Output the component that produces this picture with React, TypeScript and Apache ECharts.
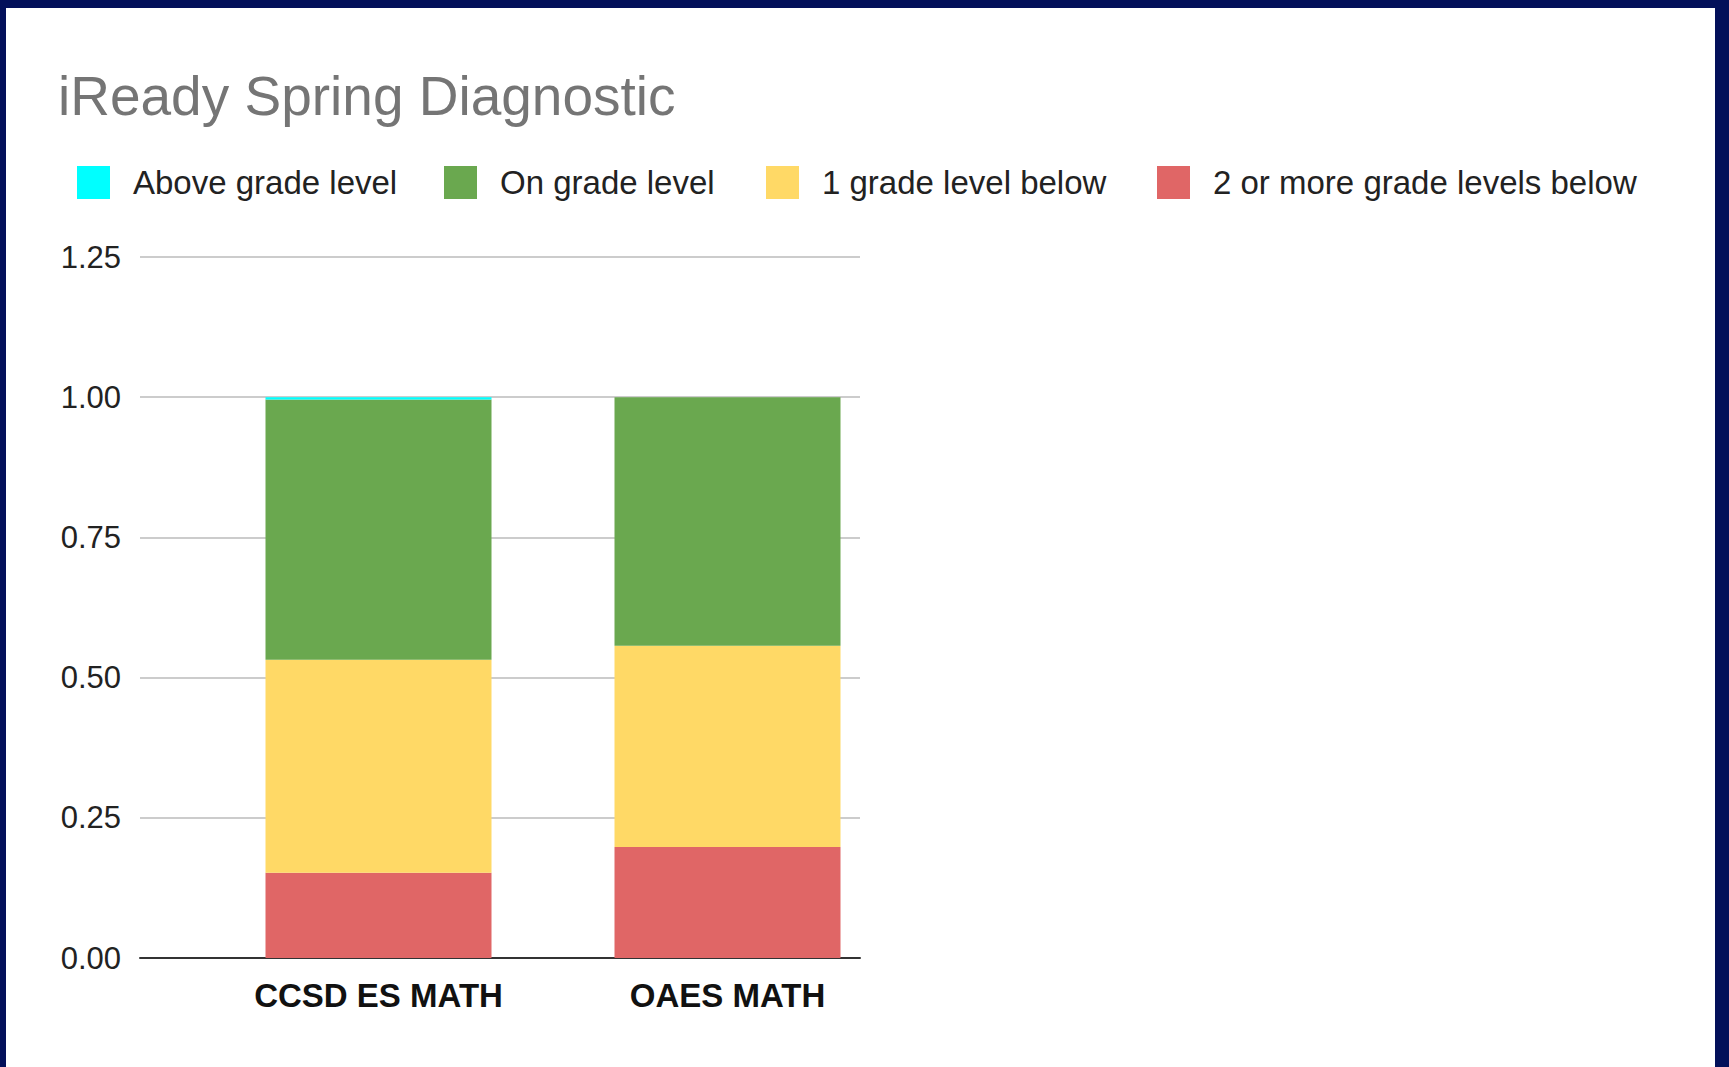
import React, { useEffect, useRef } from "react";
import * as echarts from "echarts";

const titleText = "iReady Spring Diagnostic";
const categories = ["CCSD ES MATH", "OAES MATH"];
const seriesNames = [
  "Above grade level",
  "On grade level",
  "1 grade level below",
  "2 or more grade levels below",
];
const aboveGrade = [0.004, 0];
const onGrade = [0.464, 0.443];
const oneBelow = [0.38, 0.359];
const twoOrMoreBelow = [0.152, 0.198];
const yTicks = [0, 0.25, 0.5, 0.75, 1.0, 1.25];

const colors: Record<string, string> = {
  "Above grade level": "#00ffff",
  "On grade level": "#6aa84f",
  "1 grade level below": "#ffd966",
  "2 or more grade levels below": "#e06666",
};

const FONT = "'Liberation Sans', Arial, sans-serif";

export default function App() {
  const ref = useRef<HTMLDivElement>(null);

  useEffect(() => {
    document.body.style.margin = "0";
    if (!ref.current) return;
    const chart = echarts.init(ref.current, undefined, { renderer: "svg" });

    const legendLefts = [77, 444, 766, 1157];
    const legends = seriesNames.map((name, i) => ({
      data: [name],
      left: legendLefts[i],
      top: 166,
      padding: 0,
      itemWidth: 33,
      itemHeight: 33,
      icon: "rect",
      textStyle: {
        fontFamily: FONT,
        fontSize: 33,
        color: "#222222",
        lineHeight: 33,
        padding: [0, 0, 0, 18],
      },
    }));

    const stackOrder: [string, number[]][] = [
      ["2 or more grade levels below", twoOrMoreBelow],
      ["1 grade level below", oneBelow],
      ["On grade level", onGrade],
      ["Above grade level", aboveGrade],
    ];

    const yMin = yTicks[0];
    const yMax = yTicks[yTicks.length - 1];
    const yInterval = yTicks[1] - yTicks[0];

    chart.setOption({
      animation: false,
      backgroundColor: "transparent",
      title: {
        text: titleText,
        left: 58,
        top: 68,
        padding: 0,
        textStyle: {
          fontFamily: FONT,
          fontSize: 55,
          fontWeight: "normal",
          color: "#757575",
        },
      },
      legend: legends,
      grid: [
        { left: 140, right: 869, top: 257, bottom: 109, containLabel: false },
        { left: 204, right: 827, top: 257, bottom: 109, containLabel: false },
      ],
      xAxis: [
        {
          type: "category",
          gridIndex: 0,
          data: categories,
          axisLine: { show: true, lineStyle: { color: "#333333", width: 2 } },
          axisTick: { show: false },
          axisLabel: { show: false },
          splitLine: { show: false },
        },
        {
          type: "category",
          gridIndex: 1,
          data: categories,
          axisLine: { show: false },
          axisTick: { show: false },
          axisLabel: {
            margin: 21,
            fontFamily: FONT,
            fontSize: 33,
            fontWeight: "bold",
            color: "#111111",
          },
          splitLine: { show: false },
        },
      ],
      yAxis: [
        {
          type: "value",
          gridIndex: 0,
          min: yMin,
          max: yMax,
          interval: yInterval,
          axisLine: { show: false },
          axisTick: { show: false },
          axisLabel: {
            margin: 19,
            fontFamily: FONT,
            fontSize: 31,
            color: "#222222",
            formatter: (v: number) => v.toFixed(2),
          },
          splitLine: { show: true, lineStyle: { color: "#cccccc", width: 2 } },
        },
        {
          type: "value",
          gridIndex: 1,
          min: yMin,
          max: yMax,
          interval: yInterval,
          show: false,
          splitLine: { show: false },
        },
      ],
      series: stackOrder.map(([name, values]) => ({
        name,
        type: "bar",
        stack: "total",
        xAxisIndex: 1,
        yAxisIndex: 1,
        barWidth: 226,
        data: values,
        itemStyle: { color: colors[name] },
        emphasis: { disabled: true },
      })),
    });

    return () => chart.dispose();
  }, []);

  return (
    <div
      style={{
        position: "fixed",
        left: 0,
        top: 0,
        width: 1729,
        height: 1067,
        background: "#03105a",
      }}
    >
      <div
        style={{
          position: "absolute",
          left: 6,
          top: 8,
          width: 1709,
          height: 1059,
          background: "#ffffff",
        }}
      />
      <div
        ref={ref}
        style={{ position: "absolute", left: 0, top: 0, width: 1729, height: 1067 }}
      />
    </div>
  );
}
